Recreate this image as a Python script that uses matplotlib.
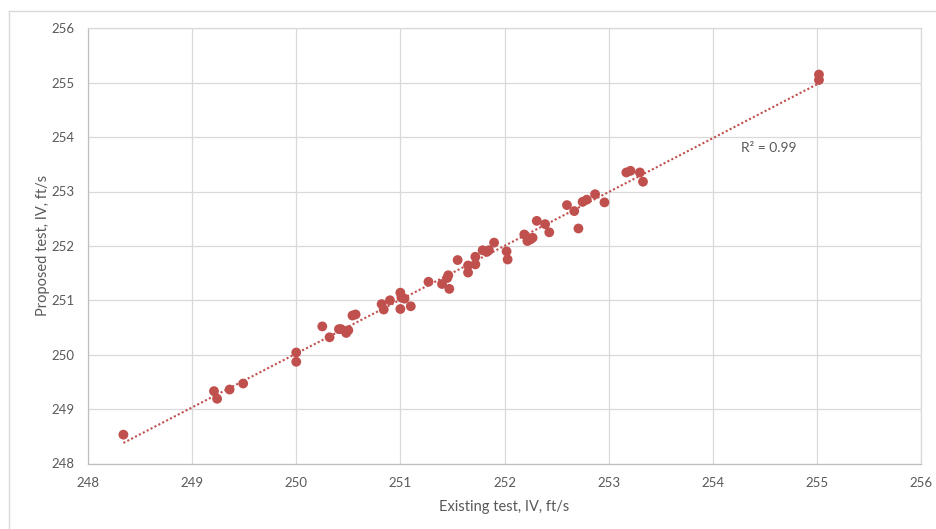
import matplotlib
matplotlib.use("Agg")
import matplotlib.pyplot as plt
import numpy as np
from matplotlib.lines import Line2D

plt.rcParams['font.family'] = ['Lato', 'DejaVu Sans']

existing = [248.34, 249.21, 249.24, 249.36, 249.49, 250.00, 250.00, 250.25, 250.32,
            250.41, 250.43, 250.48, 250.50, 250.54, 250.57, 250.82, 250.84, 250.90,
            251.00, 251.01, 251.04, 251.00, 251.10, 251.27, 251.40, 251.46, 251.45,
            251.47, 251.55, 251.65, 251.65, 251.72, 251.72, 251.79, 251.83, 251.85,
            251.90, 252.02, 252.03, 252.19, 252.22, 252.27, 252.25, 252.31, 252.39,
            252.43, 252.60, 252.67, 252.71, 252.75, 252.79, 252.87, 252.96, 253.17,
            253.21, 253.30, 253.33, 255.02, 255.02]
proposed = [248.53, 249.33, 249.19, 249.36, 249.47, 250.04, 249.87, 250.52, 250.32,
            250.47, 250.47, 250.40, 250.45, 250.72, 250.74, 250.93, 250.83, 251.00,
            251.14, 251.05, 251.03, 250.84, 250.89, 251.34, 251.30, 251.46, 251.41,
            251.21, 251.74, 251.64, 251.51, 251.80, 251.66, 251.92, 251.89, 251.92,
            252.06, 251.90, 251.75, 252.21, 252.09, 252.15, 252.12, 252.46, 252.40,
            252.25, 252.75, 252.64, 252.32, 252.81, 252.85, 252.95, 252.80, 253.35,
            253.38, 253.35, 253.18, 255.15, 255.05]

ticks = [248, 249, 250, 251, 252, 253, 254, 255, 256]
r2_label = "R² = 0.99"
x_title = "Existing test, IV, ft/s"
y_title = "Proposed test, IV, ft/s"

red = "#C0504D"
txt = "#595959"
grid = "#D9D9D9"

fig = plt.figure(figsize=(9.36, 5.29), dpi=100)
ax = fig.add_axes([88/936, (529-463.5)/529, 833/936, 435.2/529])

x = np.array(existing)
y = np.array(proposed)
ax.scatter(x, y, s=50, color=red, edgecolors='none', zorder=3)

m, b = np.polyfit(x, y, 1)
xx = np.array([x.min(), x.max()])
ax.plot(xx, m*xx + b, color=red, lw=1.5, linestyle=(0, (1, 1.1)), zorder=2)

ax.set_xlim(ticks[0], ticks[-1])
ax.set_ylim(ticks[0], ticks[-1])
ax.set_xticks(ticks)
ax.set_yticks(ticks)
ax.grid(True, color=grid, lw=0.9, zorder=0)
ax.set_axisbelow(True)
ax.tick_params(length=0, labelsize=9.5, labelcolor=txt, pad=10)
for s in ['top', 'right']:
    ax.spines[s].set_color(grid)
    ax.spines[s].set_linewidth(0.9)
for s in ['left', 'bottom']:
    ax.spines[s].set_color("#BFBFBF")
    ax.spines[s].set_linewidth(0.9)

ax.set_xlabel(x_title, fontsize=10.5, color=txt, labelpad=8)
ax.set_ylabel(y_title, fontsize=10.5, color=txt, labelpad=1)

ax.text(254.54, 253.80, r2_label, fontsize=10, color=txt, ha='center', va='center')

# chart-area border (left and top only visible)
fig.add_artist(Line2D([8.5/936, 8.5/936], [0, 1-10.5/529], color=grid, lw=1, transform=fig.transFigure))
fig.add_artist(Line2D([8.5/936, 1], [1-10.5/529, 1-10.5/529], color=grid, lw=1, transform=fig.transFigure))

fig.savefig("out.png", dpi=100)
